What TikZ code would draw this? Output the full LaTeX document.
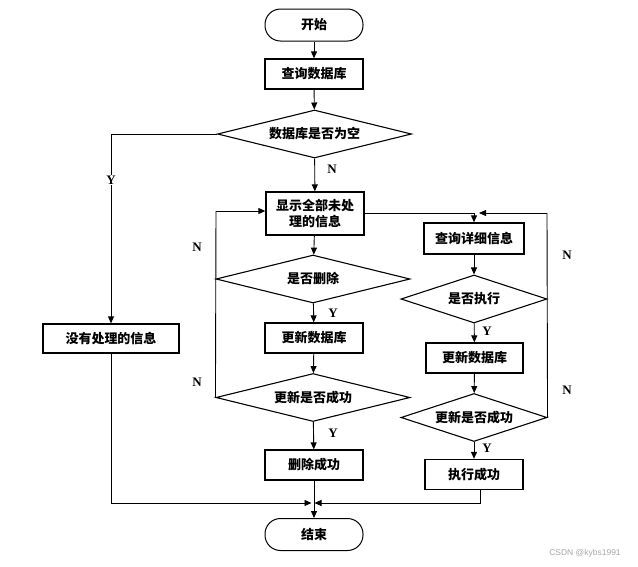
\documentclass[tikz,border=0pt]{standalone}
\usepackage{fontspec}
\newfontfamily\cjk{Noto Sans CJK SC}
\newfontfamily\lab{Liberation Serif}
\newfontfamily\wm{Liberation Sans}
\usetikzlibrary{shapes.geometric,arrows.meta,calc}
\tikzset{
  box/.style={draw,line width=1.3pt,minimum width=98pt,minimum height=30pt,inner sep=0pt,font=\cjk\bfseries\fontsize{13}{16}\selectfont,align=center},
  term/.style={box,rounded corners=15.5pt,minimum height=32pt,line width=1pt},
  dia/.style={draw,diamond,line width=1.1pt,inner sep=0pt,aspect=4,minimum width=194pt,minimum height=48pt,font=\cjk\bfseries\fontsize{13}{16}\selectfont},
  sdia/.style={dia,aspect=3,minimum width=146pt},
  conn/.style={line width=0.9pt,-{Triangle[length=7pt,width=6pt]}},
  line/.style={line width=0.9pt},
  yn/.style={font=\lab\bfseries\fontsize{13}{14}\selectfont,inner sep=1pt}
}
\begin{document}
\begin{tikzpicture}[x=1pt,y=-1pt]
\useasboundingbox (0,0) rectangle (638,566);
% left/middle column
\node[term] (start) at (314,25) {开始};
\node[box] (q1) at (314,74) {查询数据库};
\node[dia] (d1) at (314.5,134) {数据库是否为空};
\node[box,minimum height=43pt] (disp) at (315,213.5) {显示全部未处\\理的信息};
\node[box,minimum width=136pt,minimum height=29pt] (none) at (111,338.5) {没有处理的信息};
\node[dia,minimum width=194pt,minimum height=48pt] (d2) at (313,279) {是否删除};
\node[box] (up1) at (314,338) {更新数据库};
\node[dia] (d3) at (313,397.5) {更新是否成功};
\node[box] (delok) at (314,465) {删除成功};
\node[term] (end) at (314,534.5) {结束};
% right column
\node[box,minimum width=100pt,minimum height=31pt] (qd) at (474,238.5) {查询详细信息};
\node[sdia] (d5) at (474,299) {是否执行};
\node[box,minimum width=97pt] (up2) at (474.5,358) {更新数据库};
\node[sdia] (d6) at (474,417.5) {更新是否成功};
\node[box,minimum width=98pt,minimum height=30pt] (exok) at (474,474.5) {执行成功};
% helper coordinates
\coordinate (merge) at (313,503);
\coordinate (ltop) at (216,211);
\coordinate (rtop) at (547,213);
\coordinate (exout) at (480,489.5);
% main flow
\draw[conn] (start) -- (q1);
\draw[conn] (q1) -- (d1);
\draw[conn] (d1) -- (disp);
\draw[conn] (disp) -- (d2);
\draw[conn] (d2) -- (up1);
\draw[conn] (up1) -- (d3);
\draw[conn] (d3) -- (delok);
\draw[conn] (delok) -- (end);
% empty database branch
\draw[conn] (d1.west) -| (none.north);
\draw[conn] (none.south) |- ($(merge)+(-1.5,0)$);
% left loop
\draw[line] (d3.west) -- (ltop);
\draw[conn] (ltop) -- (ltop -| disp.west);
% right branch
\draw[conn] (disp.east |- rtop) -| (qd.north);
\draw[conn] (qd) -- (d5);
\draw[conn] (d5) -- (up2);
\draw[conn] (up2) -- (d6);
\draw[conn] (d6) -- (exok);
\draw[line] (d6.east) -- (rtop);
\draw[conn] (rtop) -- ($(qd.north |- rtop)+(5,0)$);
\draw[conn] (exout) |- ($(merge)+(1.5,0)$);
% labels
\node[yn] (n1) at (332,169) {N};
\node[yn,fill=white] (y0) at (111,180) {Y};
\node[yn] (n2) at (197,247) {N};
\node[yn] (n3) at (197,382) {N};
\node[yn] (y1) at (333,313) {Y};
\node[yn] (y2) at (333,433) {Y};
\node[yn] (n4) at (567,255) {N};
\node[yn] (n5) at (567,390) {N};
\node[yn] (y3) at (487,331) {Y};
\node[yn] (y4) at (487,448) {Y};
\node[font=\wm\fontsize{8.5}{10}\selectfont,text=black!35] (wm) at (585,553) {CSDN @kybs1991};
\end{tikzpicture}
\end{document}
